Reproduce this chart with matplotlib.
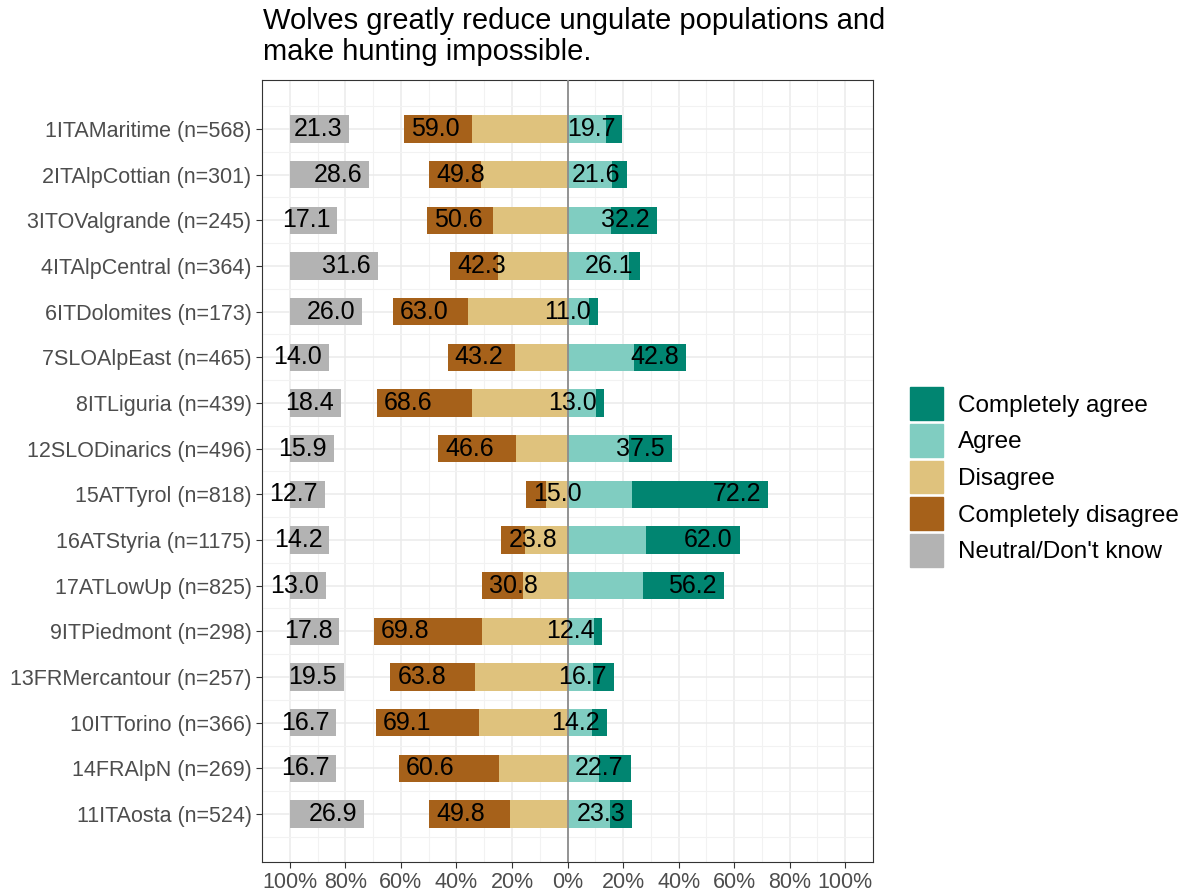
import numpy as np
import matplotlib
matplotlib.use('Agg')
import matplotlib.pyplot as plt
from matplotlib.patches import Patch

plt.rcParams['font.family'] = ['Liberation Sans', 'DejaVu Sans']

sites = ["1ITAMaritime (n=568)", "2ITAlpCottian (n=301)", "3ITOValgrande (n=245)",
         "4ITAlpCentral (n=364)", "6ITDolomites (n=173)", "7SLOAlpEast (n=465)",
         "8ITLiguria (n=439)", "12SLODinarics (n=496)", "15ATTyrol (n=818)",
         "16ATStyria (n=1175)", "17ATLowUp (n=825)", "9ITPiedmont (n=298)",
         "13FRMercantour (n=257)", "10ITTorino (n=366)", "14FRAlpN (n=269)",
         "11ITAosta (n=524)"]

# totals shown as labels
low_total = [59.0, 49.8, 50.6, 42.3, 63.0, 43.2, 68.6, 46.6, 15.0, 23.8, 30.8, 69.8, 63.8, 69.1, 60.6, 49.8]
high_total = [19.7, 21.6, 32.2, 26.1, 11.0, 42.8, 13.0, 37.5, 72.2, 62.0, 56.2, 12.4, 16.7, 14.2, 22.7, 23.3]
neutral = [21.3, 28.6, 17.1, 31.6, 26.0, 14.0, 18.4, 15.9, 12.7, 14.2, 13.0, 17.8, 19.5, 16.7, 16.7, 26.9]
# inner segments
disagree = [34.5, 31.1, 26.9, 24.9, 35.7, 19.0, 34.3, 18.7, 7.8, 15.2, 16.1, 30.8, 33.4, 31.9, 24.7, 20.8]
agree = [14.0, 16.1, 15.5, 22.3, 7.8, 24.0, 10.2, 22.0, 23.3, 28.1, 27.2, 9.4, 9.3, 8.8, 11.4, 15.3]

low_total = np.array(low_total)
high_total = np.array(high_total)
neutral = np.array(neutral)
disagree = np.array(disagree)
agree = np.array(agree)
comp_disagree = low_total - disagree
comp_agree = high_total - agree

c_ca = '#018571'
c_a = '#80CDC1'
c_d = '#DFC27D'
c_cd = '#A6611A'
c_n = '#B3B3B3'

fig = plt.figure(figsize=(11.92, 8.92), dpi=100)
ax = fig.add_axes([262/1192, 1-862/892, (873-262)/1192, (862-80)/892])

ypos = np.arange(len(sites))[::-1] + 1
h = 0.6

ax.barh(ypos, -disagree, height=h, color=c_d, zorder=3)
ax.barh(ypos, -comp_disagree, left=-disagree, height=h, color=c_cd, zorder=3)
ax.barh(ypos, agree, height=h, color=c_a, zorder=3)
ax.barh(ypos, comp_agree, left=agree, height=h, color=c_ca, zorder=3)
ax.barh(ypos, neutral, left=-100, height=h, color=c_n, zorder=3)

fs = 18
for y, lo, hi, ne in zip(ypos, low_total, high_total, neutral):
    ax.annotate('%.1f' % lo, (-lo, y), xytext=(5, 0), textcoords='offset points',
                ha='left', va='center', fontsize=fs, zorder=5)
    ax.annotate('%.1f' % hi, (hi, y), xytext=(-5, 0), textcoords='offset points',
                ha='right', va='center', fontsize=fs, zorder=5)
    ax.annotate('%.1f' % ne, (-100 + ne, y), xytext=(-5, 0), textcoords='offset points',
                ha='right', va='center', fontsize=fs, zorder=5)

ax.axvline(0, color='#8c8c8c', lw=1.3, zorder=4)

ax.set_xlim(-110, 110)
ax.set_ylim(-0.05, len(sites) + 1.07)
ticks = np.arange(-100, 101, 20)
ax.set_xticks(ticks)
ax.set_xticklabels(['%d%%' % abs(t) for t in ticks])
ax.set_xticks(np.arange(-110, 111, 10), minor=True)
ax.set_yticks(ypos)
ax.set_yticklabels(sites)
ax.set_yticks(np.arange(0.5, len(sites) + 1, 1), minor=True)
ax.grid(which='major', color='#ebebeb', lw=1.1, zorder=0)
ax.grid(which='minor', color='#f2f2f2', lw=0.8, zorder=0)
ax.tick_params(which='minor', length=0)
ax.tick_params(which='major', length=4, color='#333333', labelsize=15.5, labelcolor='#4d4d4d')
for s in ax.spines.values():
    s.set_color('#333333')
    s.set_linewidth(0.8)

fig.text(263/1192, 1-7/892, 'Wolves greatly reduce ungulate populations and\nmake hunting impossible.',
         ha='left', va='top', fontsize=21, linespacing=1.15)

handles = [Patch(color=c_ca, label='Completely agree'),
           Patch(color=c_a, label='Agree'),
           Patch(color=c_d, label='Disagree'),
           Patch(color=c_cd, label='Completely disagree'),
           Patch(color=c_n, label="Neutral/Don't know")]
fig.legend(handles=handles, loc='center left', bbox_to_anchor=(910/1192, 1-477/892),
           frameon=False, fontsize=17.5, handlelength=1.36, handleheight=1.71,
           handletextpad=0.6, labelspacing=0.15, borderpad=0, borderaxespad=0)

fig.savefig('out.png', dpi=100)
